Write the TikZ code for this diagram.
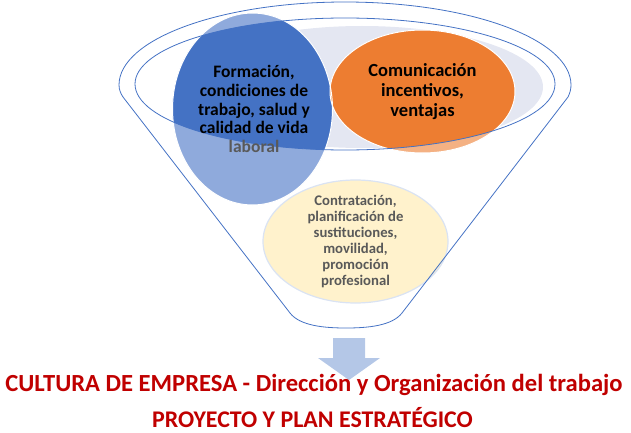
\documentclass[tikz,border=0pt]{standalone}
\usepackage{fontspec}
\setmainfont{Carlito}
\definecolor{rimblue}{HTML}{4472C4}
\definecolor{rimgrey}{HTML}{E4E7F2}
\definecolor{blueA}{HTML}{4472C4}
\definecolor{blueB}{HTML}{8FAADC}
\definecolor{orangeA}{HTML}{ED7D31}
\definecolor{orangeB}{HTML}{F4B183}
\definecolor{yellowA}{HTML}{FFF2CC}
\definecolor{yellowB}{HTML}{DAE3F3}
\definecolor{textgrey}{HTML}{595959}
\definecolor{arrowblue}{HTML}{B4C7E7}
\definecolor{titlered}{HTML}{C00000}
\begin{document}
\begin{tikzpicture}[x=1pt,y=1pt,
  rim/.style={draw=rimblue,line width=0.8pt},
  bubble/.style={align=center,inner sep=0pt},
  title/.style={anchor=base,inner sep=0pt,text=titlered}]
\useasboundingbox (0,0) rectangle (631,432);

\fill[rimgrey] (362,345) ellipse[x radius=181pt,y radius=61pt];
\fill[blueB] (252.5,323) ellipse[x radius=80pt,y radius=96pt];
\fill[orangeB] (422.5,340.5) ellipse[x radius=92.5pt,y radius=61.5pt];
\begin{scope}
\clip (345,348) ellipse[x radius=210pt,y radius=66pt];
\fill[blueA] (252.5,323) ellipse[x radius=80pt,y radius=96pt];
\fill[orangeA] (422.5,340.5) ellipse[x radius=92.5pt,y radius=61.5pt];
\end{scope}
\draw[white,line width=1pt] (252.5,323) ellipse[x radius=80pt,y radius=96pt];
\draw[white,line width=1pt] (422.5,340.5) ellipse[x radius=92.5pt,y radius=61.5pt];
\draw[rim] (345,348) ellipse[x radius=210pt,y radius=66pt];
\filldraw[fill=yellowA,draw=yellowB,line width=1.2pt] (355.5,190.5) ellipse[x radius=92.5pt,y radius=61.5pt];

%%%%%%%% funnel
\draw[rim] (123,335) -- (290,119) .. controls (300,106) and (325,104) .. (346,104)
  .. controls (367,104) and (392,106) .. (402,119) -- (568,335)
  .. controls (570,339) and (571,343) .. (571,347)
  arc[start angle=0,end angle=180,x radius=226pt,y radius=83pt]
  .. controls (119,342) and (121,338) .. (123,335);
\fill[arrowblue] (333,94) -- (365,94) -- (365,74) -- (380,74) -- (349,52) -- (318,74) -- (333,74) -- cycle;

%%%%%%%% texts
\node[bubble,font=\bfseries\fontsize{17.5}{18.7}\selectfont] (b1) at (254,323) {Formación,\\condiciones de\\trabajo, salud y\\calidad de vida\\\textcolor{textgrey}{laboral}};
\node[bubble,font=\bfseries\fontsize{18.5}{20}\selectfont] (b2) at (422.5,340.5) {Comunicación\\incentivos,\\ventajas};
\node[bubble,text=textgrey,font=\bfseries\fontsize{14.7}{16}\selectfont] (b3) at (355.5,191) {Contratación,\\planificación de\\sustituciones,\\movilidad,\\promoción\\profesional};

\node[title,font=\bfseries\fontsize{24.6}{28}\selectfont] (t1) at (314,40.3) {CULTURA DE EMPRESA - Dirección y Organización del trabajo};
\node[title,font=\bfseries\fontsize{23.9}{28}\selectfont] (t2) at (312.5,5) {PROYECTO Y PLAN ESTRATÉGICO};
\end{tikzpicture}
\end{document}
